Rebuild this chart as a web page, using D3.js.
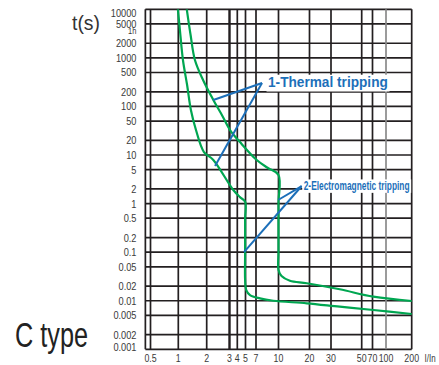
<!DOCTYPE html>
<html><head><meta charset="utf-8">
<script src="https://cdn.jsdelivr.net/npm/d3@7"></script>
<style>body{margin:0;background:#fff}svg{display:block}</style>
</head><body><svg id="c" width="439" height="365"></svg>
<script>
// ---- data ----
const xTicks = [0.5, 1, 2, 3, 4, 5, 7, 10, 20, 30, 50, 70, 100, 200];
const xTickLabels = ["0.5", "1", "2", "3", "4", "5", "7", "10", "20", "30", "50", "70", "100", "200"];
const yTicks = [10000, 5000, 2000, 1000, 500, 200, 100, 50, 20, 10, 5, 2, 1, 0.5, 0.2, 0.1, 0.05, 0.02, 0.01, 0.005, 0.002, 0.001];
const yTickLabels = ["10000", "5000", "2000", "1000", "500", "200", "100", "50", "20", "10", "5", "2", "1", "0.5", "0.2", "0.1", "0.05", "0.02", "0.01", "0.005", "0.002", "0.001"];
const hourValue = 3600, hourLabel = "1h";
const xMin = 0.44, xMax = 200, yMin = 0.001, yMax = 10000;

// lower curve (minimum)
const lowI = [0.99, 1.04, 1.12, 1.24, 1.36, 1.54, 1.87, 2.25, 3.45, 4.3, 4.95, 4.95, 4.95, 4.95, 5.12, 5.78, 7.45, 9.2, 18.8, 34.7, 71.5, 200];
const lowT = [10000, 3750, 904, 276, 84.5, 32.7, 11.5, 7.9, 1.9, 1.36, 1.09, 0.5, 0.1, 0.0267, 0.0166, 0.0131, 0.0112, 0.0100, 0.00885, 0.00754, 0.00645, 0.00533];
// upper curve (maximum)
const highI = [1.23, 1.35, 1.50, 1.83, 2.25, 2.62, 3.06, 4.3, 7.08, 8.46, 10, 10, 10, 10, 10.7, 12.9, 18.8, 34.7, 71.5, 200];
const highT = [10000, 2960, 904, 350, 136, 66.7, 32.7, 18.5, 7.9, 5.4, 3.87, 1, 0.1, 0.0429, 0.0323, 0.0258, 0.0229, 0.0172, 0.0121, 0.00987];

const label1 = "1-Thermal tripping";
const label1Apex = [7.7, 304];
const label1Targets = [[2.25, 136], [2.32, 5.94]];
const label2 = "2-Electromagnetic tripping";
const label2Apex = [16.8, 2.3];
const label2Targets = [[10, 1.2], [4.8, 0.1]];

// ---- layout ----
const xRange = [150.5, 178.3, 206.7, 229.5, 237.3, 245.5, 256, 278.5, 309.5, 331, 361.7, 372.5, 386, 411.7];
const x = d3.scaleLog().domain(xTicks).range(xRange);
const y = d3.scaleLog().domain([yMax, yMin]).range([9.3, 349.3]);

const svg = d3.select("#c");
const font = "'Liberation Sans',Arial,sans-serif";
const ink = "#231f20";
const labelInk = "#3a3a3a";

// grid
const g = svg.append("g");
g.selectAll("line.h").data(yTicks).join("line")
  .attr("x1", x(xMin)).attr("x2", x(xMax))
  .attr("y1", d => y(d)).attr("y2", d => y(d))
  .attr("stroke", ink).attr("stroke-width", 1.7);
g.selectAll("line.v").data([xMin].concat(xTicks)).join("line")
  .attr("x1", d => x(d)).attr("x2", d => x(d))
  .attr("y1", y(yMax)).attr("y2", y(yMin))
  .attr("stroke", d => d === 100 ? "#8a8a8a" : ink)
  .attr("stroke-width", d => d === 3 ? 2.4 : 1.7);

function squeezed(parent, px, py, txt, size, sx, anchor) {
  return parent.append("text")
    .attr("transform", `translate(${px},${py}) scale(${sx},1)`)
    .attr("text-anchor", anchor).attr("font-family", font)
    .attr("font-size", size).attr("fill", labelInk).text(txt);
}
// text squeezed to a target width (scale computed from its natural width)
function fitted(parent, px, py, txt, size, width, attrs) {
  const t = parent.append("text").attr("font-family", font).attr("font-size", size).text(txt);
  Object.entries(attrs || {}).forEach(([k, v]) => t.attr(k, v));
  const w = t.node().getComputedTextLength();
  t.attr("transform", `translate(${px},${py}) scale(${width / w},1)`);
  return t;
}

// y tick labels (end labels nudged inside the frame)
const yl = svg.append("g");
yTicks.forEach((d, i) => {
  const nudge = d === yMax ? 3.5 : (d === yMin ? -2 : 0);
  squeezed(yl, 136.5, y(d) + 4 + nudge, yTickLabels[i], 11, 0.84, "end");
});
squeezed(yl, 136.5, y(hourValue) + 3, hourLabel, 9, 0.84, "end");

// x tick labels
const xl = svg.append("g");
xTicks.forEach((d, i) => squeezed(xl, x(d), 362, xTickLabels[i], 11, 0.8, "middle"));
squeezed(xl, 424.5, 362, "I/In", 10, 0.8, "start");

// curves
const line = d3.line().x(d => x(d[0])).y(d => y(d[1])).curve(d3.curveCatmullRom.alpha(0.5));
[[lowI, lowT], [highI, highT]].forEach(([I, T]) => {
  svg.append("path").attr("d", line(I.map((v, i) => [v, T[i]])))
    .attr("fill", "none").attr("stroke", "#00a651").attr("stroke-width", 2.2);
});

// annotations
const blue = "#1c6fb9";
function annot(text, apex, targets, fs, len, dx) {
  targets.forEach(t => svg.append("line")
    .attr("x1", x(apex[0])).attr("y1", y(apex[1]))
    .attr("x2", x(t[0])).attr("y2", y(t[1]))
    .attr("stroke", blue).attr("stroke-width", 2));
  const tx = x(apex[0]) + dx, ty = y(apex[1]) + fs * 0.3;
  svg.append("rect").attr("x", tx - 1.5).attr("y", ty - fs * 0.85)
    .attr("width", len + 3).attr("height", fs * 1.12).attr("fill", "#fff");
  fitted(svg, tx, ty, text, fs, len, {"font-weight": "bold", "fill": blue});
}
annot(label1, label1Apex, label1Targets, 15, 120, 6);
annot(label2, label2Apex, label2Targets, 12, 106, 2);

// titles
fitted(svg, 72, 30, "t(s)", 21, 28, {"fill": "#333"});
fitted(svg, 15, 347, "C type", 36, 73, {"fill": "#222"});
</script>
</body></html>
